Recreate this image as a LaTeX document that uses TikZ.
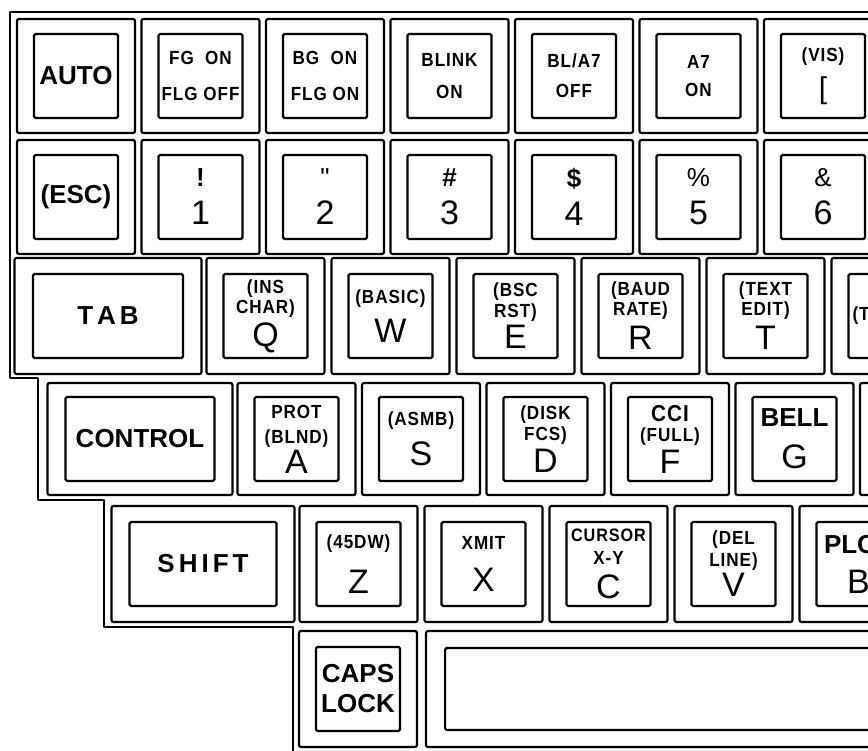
\documentclass[tikz,border=0pt]{standalone}
\usepackage{fontspec}
\setmainfont{Liberation Sans}
\newfontfamily\legfamily[FakeStretch=0.9, LetterSpace=5]{Liberation Sans}
\newfontfamily\plainsans{Liberation Sans}
\usetikzlibrary{positioning}
\newcommand{\keyfont}{\normalfont\fontsize{26}{20}\selectfont\bfseries}
\newcommand{\legfont}{\legfamily\fontsize{19}{20}\selectfont\bfseries}
\newcommand{\capfont}{\legfont\lineskiplimit=-200pt\relax}
\newcommand{\charfont}{\normalfont\fontsize{34}{20}\selectfont}
\newcommand{\symfont}{\normalfont\plainsans\fontsize{26}{20}\selectfont}
\begin{document}
\begin{tikzpicture}[
  x=1pt, y=-1pt,
  keywell/.style={rectangle, draw, line width=2.2pt, rounded corners=2pt,
                  minimum width=118pt, minimum height=114pt, inner sep=0pt, outer sep=0pt},
  keycap/.style={rectangle, draw, line width=2.2pt, rounded corners=1.5pt,
                 minimum width=84pt, minimum height=84pt, inner sep=0pt,
                 align=center, font=\capfont},
  caseline/.style={line width=2.4pt, line join=round},
  node distance=6.5pt
]
  \useasboundingbox (0,0) rectangle (868,751);
  \clip (0,0) rectangle (868,751);
  \fill[white] (0,0) rectangle (868,751);

  % case outline
  \draw[caseline] (880,12) -- (10,12) -- (10,378) -- (38,378) -- (38,500)
    -- (104,500) -- (104,627) -- (293,627) -- (293,760);

  % row 1
  \node[keywell] (auto) at (76,76) {};
  \node[keywell, right=of auto] (fgon) {};
  \node[keywell, right=of fgon] (bgon) {};
  \node[keywell, right=of bgon] (blink) {};
  \node[keywell, right=of blink] (bla7) {};
  \node[keywell, right=of bla7] (a7on) {};
  \node[keywell, right=of a7on] (vis) {};
  \node[keycap] (auto-cap) at (auto) {\keyfont AUTO};
  \node[keycap] (fgon-cap) at (fgon) {FG\ \ ON\\[16pt]FLG OFF};
  \node[keycap] (bgon-cap) at (bgon) {BG\ \ ON\\[16pt]FLG ON};
  \node[keycap] (blink-cap) at (blink) {BLINK\\[12pt]ON};
  \node[keycap] (bla7-cap) at (bla7) {BL/A7\\[10pt]OFF};
  \node[keycap] (a7on-cap) at (a7on) {A7\\[8pt]ON};
  \node[keycap] (vis-cap) at (vis) {(VIS)\\[17pt]\normalfont\fontsize{30}{20}\selectfont [};

  % row 2
  \node[keywell] (esc) at (76,197) {};
  \node[keywell, right=of esc] (k1) {};
  \node[keywell, right=of k1] (k2) {};
  \node[keywell, right=of k2] (k3) {};
  \node[keywell, right=of k3] (k4) {};
  \node[keywell, right=of k4] (k5) {};
  \node[keywell, right=of k5] (k6) {};
  \node[keycap] (esc-cap) at (esc) {\keyfont (ESC)};
  \node[keycap] (k1-cap) at (k1) {\symfont\bfseries !\\[18pt]\charfont 1};
  \node[keycap] (k2-cap) at (k2) {\symfont "\\[18pt]\charfont 2};
  \node[keycap] (k3-cap) at (k3) {\symfont\bfseries \#\\[18pt]\charfont 3};
  \node[keycap] (k4-cap) at (k4) {\symfont\bfseries \$\\[18pt]\charfont 4};
  \node[keycap] (k5-cap) at (k5) {\symfont \%\\[18pt]\charfont 5};
  \node[keycap] (k6-cap) at (k6) {\symfont \&\\[18pt]\charfont 6};

  % row 3
  \node[keywell, minimum width=187pt, minimum height=116pt] (tab) at (108,316) {};
  \node[keywell, minimum height=116pt, right=5pt of tab] (q) {};
  \node[keywell, minimum height=116pt, right=7pt of q] (w) {};
  \node[keywell, minimum height=116pt, right=7pt of w] (e) {};
  \node[keywell, minimum height=116pt, right=7pt of e] (r) {};
  \node[keywell, minimum height=116pt, right=7pt of r] (t) {};
  \node[keywell, minimum height=116pt, right=7pt of t] (y) {};
  \node[keycap, minimum width=150pt] (tab-cap) at (tab) {\keyfont T\kern4pt A\kern4pt B};
  \node[keycap] (q-cap) at (q) {(INS\\CHAR)\\[13pt]\charfont Q};
  \node[keycap] (w-cap) at (w) {(BASIC)\\[19pt]\charfont W};
  \node[keycap] (e-cap) at (e) {(BSC\\[1pt]RST)\\[11pt]\charfont E};
  \node[keycap] (r-cap) at (r) {(BAUD\\RATE)\\[14pt]\charfont R};
  \node[keycap] (t-cap) at (t) {(TEXT\\EDIT)\\[14pt]\charfont T};
  \node[keycap] (y-cap) at (y) {\makebox[76pt][l]{(T}};

  % row 4
  \node[keywell, minimum width=185pt, minimum height=112pt] (control) at (140,439) {};
  \node[keywell, minimum height=112pt, right=5pt of control] (a) {};
  \node[keywell, minimum height=112pt, right=of a] (s) {};
  \node[keywell, minimum height=112pt, right=of s] (d) {};
  \node[keywell, minimum height=112pt, right=of d] (f) {};
  \node[keywell, minimum height=112pt, right=of f] (g) {};
  \node[keywell, minimum height=112pt, right=of g] (h) {};
  \node[keycap, minimum width=149pt] (control-cap) at (control) {\keyfont CONTROL};
  \node[keycap] (a-cap) at (a) {PROT\\[5pt](BLND)\\[10pt]\charfont A};
  \node[keycap] (s-cap) at (s) {(ASMB)\\[20pt]\charfont S};
  \node[keycap] (d-cap) at (d) {(DISK\\[1pt]FCS)\\[12pt]\charfont D};
  \node[keycap] (f-cap) at (f) {\fontsize{23}{20}\selectfont CCI\\(FULL)\\[12pt]\charfont F};
  \node[keycap] (g-cap) at (g) {\keyfont BELL\\[22pt]\charfont G};

  % row 5
  \node[keywell, minimum width=183pt, minimum height=116pt] (shift) at (203,564) {};
  \node[keywell, minimum height=116pt, right=5pt of shift] (z) {};
  \node[keywell, minimum height=116pt, right=7pt of z] (x) {};
  \node[keywell, minimum height=116pt, right=7pt of x] (c) {};
  \node[keywell, minimum height=116pt, right=7pt of c] (v) {};
  \node[keywell, minimum height=116pt, right=7pt of v] (b) {};
  \node[keycap, minimum width=147pt] (shift-cap) at (shift) {\keyfont S\kern4pt H\kern4pt I\kern4pt F\kern4pt T};
  \node[keycap] (z-cap) at (z) {(45DW)\\[25pt]\charfont Z};
  \node[keycap] (x-cap) at (x) {XMIT\\[22pt]\charfont X};
  \node[keycap] (c-cap) at (c) {\fontsize{18}{20}\selectfont CURSOR\\[3pt]X-Y\\[14pt]\charfont C};
  \node[keycap] (v-cap) at (v) {(DEL\\[2pt]LINE)\\[10pt]\charfont V};
  \node[keycap] (b-cap) at (b) {\keyfont\makebox[69pt][l]{PLC}\\[20pt]\charfont B};

  % row 6
  \node[keywell, minimum height=116pt] (caps) at (358,689) {};
  \node[keywell, minimum width=600pt, minimum height=116pt, right=9pt of caps] (space) {};
  \node[keycap] (caps-cap) at (caps) {\keyfont CAPS\\[10pt]\keyfont LOCK};
  \node[keycap, minimum width=560pt, minimum height=82pt, anchor=west, xshift=18pt] (space-cap) at (space.west) {};
\end{tikzpicture}
\end{document}
